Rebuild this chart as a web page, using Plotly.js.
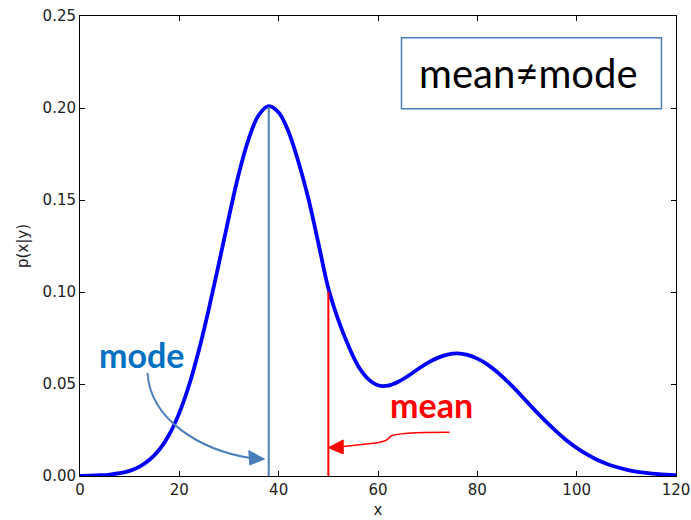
<!DOCTYPE html>
<html>
<head>
<meta charset="utf-8">
<script src="https://cdn.plot.ly/plotly-3.0.1.min.js"></script>
<style>
  html, body { margin: 0; padding: 0; background: #ffffff; }
  #chart { width: 691px; height: 520px; }
</style>
</head>
<body>
<div id="chart"></div>
<script>
// Bimodal conditional density p(x|y), sampled every 2 units of x
const xValues = [0, 2, 4, 6, 8, 10, 12, 14, 16, 18, 20, 22, 24, 26, 28, 30, 32, 34, 36, 38,
  40, 42, 44, 46, 48, 50, 52, 54, 56, 58, 60, 62, 64, 66, 68, 70, 72, 74, 76, 78,
  80, 82, 84, 86, 88, 90, 92, 94, 96, 98, 100, 102, 104, 106, 108, 110, 112, 114, 116, 118, 120];
const pValues = [0.0001, 0.0002, 0.0004, 0.0008, 0.0015, 0.0028, 0.0051, 0.0088, 0.0144, 0.0227,
  0.0343, 0.0497, 0.0690, 0.0915, 0.1160, 0.1410, 0.1645, 0.1835, 0.1962, 0.2010,
  0.1975, 0.1870, 0.1705, 0.1505, 0.1265, 0.1020, 0.0848, 0.0710, 0.0598, 0.0528,
  0.0493, 0.0491, 0.0511, 0.0543, 0.0580, 0.0615, 0.0642, 0.0660, 0.0666, 0.0658,
  0.0638, 0.0607, 0.0565, 0.0515, 0.0461, 0.0403, 0.0346, 0.0291, 0.0240, 0.0193,
  0.0153, 0.0119, 0.0090, 0.0067, 0.0049, 0.0035, 0.0024, 0.0017, 0.0011, 0.0007, 0.0005];

// Mode and mean of the distribution, with the density height at each
const modeX = 38, modeP = 0.2005;
const meanX = 50, meanP = 0.1000;

const xTicks = [0, 20, 40, 60, 80, 100, 120];
const yTicks = [0.00, 0.05, 0.10, 0.15, 0.20, 0.25];

const curve = {
  x: xValues, y: pValues, type: 'scatter', mode: 'lines',
  line: { color: '#0000ff', width: 3.8, shape: 'spline', smoothing: 1 },
  hoverinfo: 'x+y'
};
const modeLine = {
  x: [modeX, modeX], y: [0, modeP], type: 'scatter', mode: 'lines',
  line: { color: '#4a7ebb', width: 2 }, hoverinfo: 'skip'
};
const meanLine = {
  x: [meanX, meanX], y: [0, meanP], type: 'scatter', mode: 'lines',
  line: { color: '#ff0000', width: 2 }, hoverinfo: 'skip'
};

const axisStyle = {
  showline: true, linecolor: '#000000', linewidth: 1, mirror: 'allticks',
  ticks: 'inside', ticklen: 5, tickwidth: 1, tickcolor: '#000000',
  showgrid: false, zeroline: false,
  tickfont: { family: 'DejaVu Sans', size: 15, color: '#222222' }
};

// curved pointer from the "mode" label to the mode line
const modeArrow = 'M 13.59,0.0560 C 14.19,0.0304 24.26,0.0141 34.23,0.0098';
const modeHead = 'M 37.15,0.0092 L 33.98,0.0138 L 34.19,0.0060 Z';
// bracket-shaped pointer from the "mean" label to the mean line
const meanArrow = 'M 74.39,0.0238 C 69.56,0.0238 63.52,0.0236 62.51,0.0215 ' +
                  'C 62.11,0.0201 61.71,0.0188 59.49,0.0179 L 53.05,0.0160';
const meanHead = 'M 50.0,0.0154 L 52.99,0.0196 L 52.99,0.0120 Z';

const layout = {
  width: 691, height: 520,
  margin: { l: 80, r: 15, t: 16, b: 44 },
  paper_bgcolor: '#ffffff', plot_bgcolor: '#ffffff',
  showlegend: false,
  font: { family: 'DejaVu Sans', size: 15, color: '#222222' },
  xaxis: Object.assign({}, axisStyle, {
    range: [0, 120], tickvals: xTicks, ticktext: xTicks.map(String),
    title: { text: 'x', font: { family: 'DejaVu Sans', size: 15, color: '#222222' }, standoff: 6 }
  }),
  yaxis: Object.assign({}, axisStyle, {
    range: [0, 0.25], tickvals: yTicks, ticktext: yTicks.map(v => v.toFixed(2)),
    title: { text: 'p(x|y)', font: { family: 'DejaVu Sans', size: 15, color: '#222222' }, standoff: 10 }
  }),
  shapes: [
    { type: 'rect', xref: 'x', yref: 'y', x0: 64.73, x1: 117.07, y0: 0.1996, y1: 0.2382,
      line: { color: '#4a7ebb', width: 1.5 }, fillcolor: 'rgba(0,0,0,0)' },
    { type: 'path', xref: 'x', yref: 'y', path: modeArrow, line: { color: '#4a7ebb', width: 2 } },
    { type: 'path', xref: 'x', yref: 'y', path: modeHead, line: { color: '#4a7ebb', width: 1 }, fillcolor: '#4a7ebb' },
    { type: 'path', xref: 'x', yref: 'y', path: meanArrow, line: { color: '#ff0000', width: 1.6 } },
    { type: 'path', xref: 'x', yref: 'y', path: meanHead, line: { color: '#ff0000', width: 1 }, fillcolor: '#ff0000' }
  ],
  annotations: [
    { x: 12.4, y: 0.066, xref: 'x', yref: 'y', text: 'mode', showarrow: false,
      xanchor: 'center', yanchor: 'middle',
      font: { family: 'Lato', size: 34, weight: 700, color: '#0070c0' } },
    { x: 70.8, y: 0.039, xref: 'x', yref: 'y', text: 'mean', showarrow: false,
      xanchor: 'center', yanchor: 'middle',
      font: { family: 'Lato', size: 34, weight: 700, color: '#ff0000' } },
    { x: 90.3, y: 0.2189, xref: 'x', yref: 'y', text: 'mean≠mode', showarrow: false,
      xanchor: 'center', yanchor: 'middle',
      font: { family: 'Lato', size: 40, color: '#000000' } }
  ]
};

Plotly.newPlot('chart', [curve, modeLine, meanLine], layout, { displayModeBar: false, staticPlot: true });
</script>
</body>
</html>
